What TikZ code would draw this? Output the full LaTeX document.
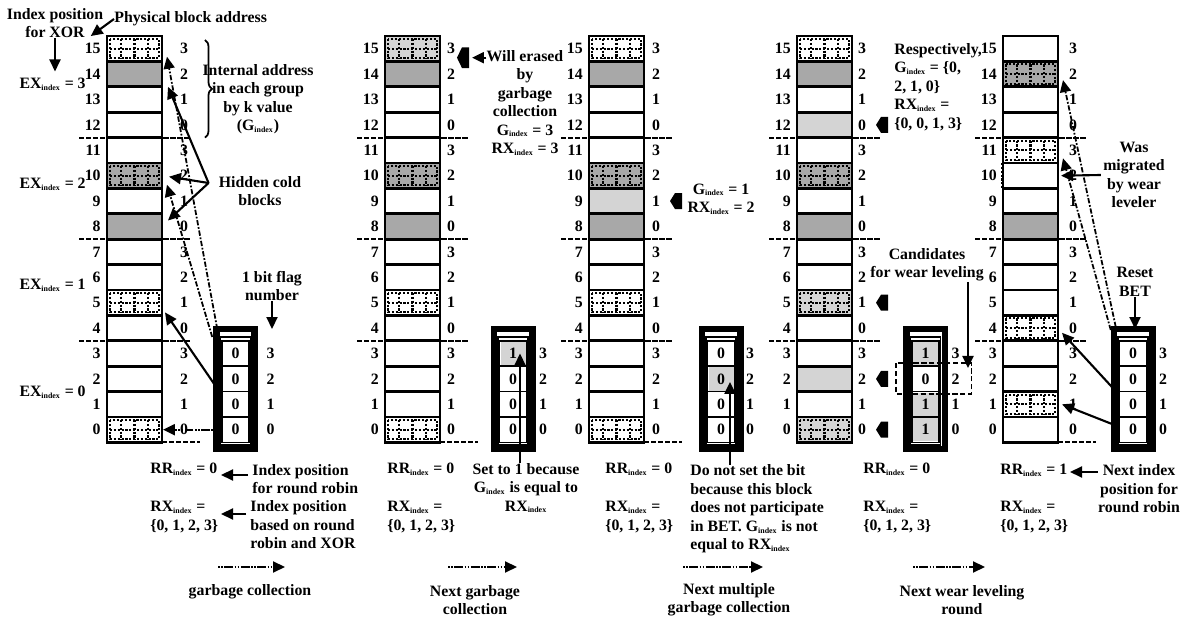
\documentclass[tikz,border=0pt]{standalone}
\usepackage{fontspec}
\setmainfont{Liberation Serif}
\usetikzlibrary{calc,positioning,arrows.meta,decorations.pathreplacing}
\definecolor{coldgray}{gray}{0.66}
\definecolor{palegray}{gray}{0.83}

\newcommand{\ix}{\textsubscript{\fontsize{4.5}{5}\selectfont index}}
\newcommand{\hatchcell}[1]{%
  \draw[hatch] ($(#1.north west)+(3,3)$) rectangle ($(#1.south east)+(-3,-3)$);
  \draw[hatch] ($(#1.west)+(3,0)$) -- ($(#1.east)+(-3,0)$);
  \foreach \f in {0.25,0.5,0.75}
    \draw[hatch] ($(#1.north west)!\f!(#1.north east)+(0,3)$) -- ($(#1.south west)!\f!(#1.south east)+(0,-3)$);}
\newcommand{\betbox}[3]{%
  \node[betframe] (bet#1) at (#2,389) {};
  \draw[line width=0.6pt] (#2-15,337) rectangle (#2+15,445);
  \foreach \k in {0,...,3} {
    \node[bitcell] (b#1r\k) at (#2,{36+(15.5-\k)*25.4}) {};
    \node[num] (b#1n\k) at ($(b#1r\k.center)+(#3,0)$) {\k};
  }}

\tikzset{
  cell/.style={rectangle, minimum width=1.1cm, minimum height=0.508cm, inner sep=0pt, outer sep=0pt},
  bitcell/.style={rectangle, draw, line width=0.8pt, minimum width=0.54cm, minimum height=0.508cm, inner sep=0pt, outer sep=0pt},
  betframe/.style={rectangle, draw, line width=0.13cm, minimum width=0.77cm, minimum height=2.4cm, inner sep=0pt, outer sep=0pt},
  num/.style={inner sep=0pt},
  lbl/.style={inner sep=0pt, align=center},
  colline/.style={line width=1.6pt},
  grp/.style={line width=1.1pt, dash pattern=on 3pt off 1pt},
  hatch/.style={line width=1.2pt, dash pattern=on 1.2pt off 1pt},
  tipped/.style={-{Triangle[length=0.24cm,width=0.22cm]}},
  blkarrow/.style={tipped, line width=1.2pt},
  dasharrow/.style={tipped, line width=1pt, dash pattern=on 3pt off 1pt on 1pt off 1pt},
  steparrow/.style={tipped, line width=1.2pt, dash pattern=on 1pt off 0.8pt on 1pt off 0.8pt on 5pt off 0.8pt},
  flagmark/.pic={\fill (6,-8) -- (-1,-8) -- (-6,0) -- (-1,8) -- (6,8) -- cycle;}
}

\begin{document}
\begin{tikzpicture}[x=0.02cm, y=-0.02cm, font=\bfseries\fontsize{9}{10.5}\selectfont]
\useasboundingbox (0,0) rectangle (1180,617);

% block columns of the five stages
\foreach \p/\xl/\ro in {1/107/22,2/385/11,3/589/12,4/797/10,5/1003/15}
  \foreach \r in {0,...,15} {
    \pgfmathtruncatemacro{\g}{mod(\r,4)}
    \node[cell] (p\p r\r) at (\xl+27.5,{36+(15.5-\r)*25.4}) {};
    \node[num, anchor=east] (p\p a\r) at ($(p\p r\r.west)+(-6,0)$) {\r};
    \node[num] (p\p g\r) at ($(p\p r\r.east)+(\ro,0)$) {\g};
  }

\foreach \c in {p1r14,p1r10,p1r8,p2r14,p2r10,p2r8,p3r14,p3r10,p3r8,p4r14,p4r10,p4r8,p5r14,p5r8}
  \fill[coldgray] ($(\c.north west)+(0,1)$) rectangle ($(\c.south east)+(0,-1)$);
\foreach \c in {p2r15,p3r9,p4r12,p4r5,p4r2,p4r0}
  \fill[palegray] ($(\c.north west)+(0,1)$) rectangle ($(\c.south east)+(0,-1)$);
\foreach \c in {p1r15,p1r10,p1r5,p1r0,p2r15,p2r10,p2r5,p2r0,p3r15,p3r10,p3r5,p3r0,p4r15,p4r10,p4r5,p4r0,p5r14,p5r11,p5r4,p5r1}
  \hatchcell{\c};

\foreach \p in {1,...,5} {
  \foreach \r in {4,8,12}
    \draw[grp] ($(p\p r\r.south west)+(-28,0)$) -- ($(p\p r\r.south east)+(28,0)$);
  \foreach \r in {0,...,14}
    \draw[colline] (p\p r\r.north west) -- (p\p r\r.north east);
  \draw[colline] (p\p r15.north west) rectangle (p\p r0.south east);
}
\foreach \p in {1,2,3,5}
  \draw[grp] (p\p r0.south east) -- ++(38,0);
\draw[hatch, line width=1.6pt] ($(p5r10.north west)+(-1,0)$) -- ($(p5r10.south west)+(-1,0)$);

% block erase tables
\betbox{1}{235.5}{35}
\betbox{2}{513}{30}
\betbox{3}{721}{29}
\betbox{4}{925.5}{30}
\betbox{5}{1133}{30}
\foreach \c in {b2r3,b3r2,b4r3,b4r1,b4r0}
  \fill[palegray] ($(\c.north west)+(1,1)$) rectangle ($(\c.south east)+(-1,-1)$);
\foreach \c/\v in {b1r3/0,b1r2/0,b1r1/0,b1r0/0,b2r3/1,b2r2/0,b2r1/0,b2r0/0,b3r3/0,b3r2/0,b3r1/0,b3r0/0,
                   b4r3/1,b4r2/0,b4r1/1,b4r0/1,b5r3/0,b5r2/0,b5r1/0,b5r0/0}
  \node[num] (\c v) at (\c) {\v};

% first stage
\node[lbl] (xorpos) at (55,23) {Index position\\for XOR};
\node[lbl, anchor=east] (ex3) at (86,84) {EX\ix{} = 3};
\node[lbl, anchor=east] (ex2) at (86,184) {EX\ix{} = 2};
\node[lbl, anchor=east] (ex1) at (86,285) {EX\ix{} = 1};
\node[lbl, anchor=east] (ex0) at (86,392) {EX\ix{} = 0};
\draw[blkarrow] (xorpos.south) -- ($(xorpos.south |- ex3.north)+(0,-6)$);
\node[lbl, anchor=west] (phys) at (114,19) {Physical block address};
\draw[blkarrow] (phys.west) -- ($(p1a15.north)+(-2,-7)$);
\draw[decorate, decoration={brace, amplitude=0.14cm}, line width=1pt]
  ($(p1r15.north east)+(43,4)$) -- ($(p1r12.south east)+(43,0)$);
\node[lbl] (intaddr) at (258,99) {Internal address\\in each group\\by k value\\(G\ix)};
\node[lbl] (hidden) at (260,191) {Hidden cold\\blocks};
\coordinate (hc) at ($(hidden.west)+(-10,-8)$);
\draw[blkarrow] (hc) -- ($(p1r14.south east)+(6,0)$);
\draw[blkarrow] (hc) -- ($(p1r10.east)+(7,1)$);
\draw[blkarrow] (hc) -- ($(p1r8.east)+(6,-6)$);
\draw[dasharrow] ($(bet1.north west)+(1,0)$) -- ($(p1r15.east)+(5,8)$);
\draw[dasharrow] ($(bet1.north west)+(-4,8)$) -- ($(p1r10.east)+(5,9)$);
\draw[blkarrow] ($(bet1.west)+(0,-2)$) -- ($(p1r5.south east)+(3,-3)$);
\draw[steparrow] (bet1.west |- b1r0) -- ($(p1r0.east)+(1,0)$);
\node[lbl] (flagnum) at (272,286) {1 bit flag\\number};
\draw[blkarrow] (flagnum.south) -- (flagnum.south |- bet1.north);

\node[lbl, anchor=west, align=left] (rrnote) at (252,479) {Index position\\for round robin};
\node[lbl, anchor=west, align=left] (rxnote) at (250,525) {Index position\\based on round\\robin and XOR};
\coordinate (rrtip) at (221,475);
\coordinate (rxtip) at (221,514);

% values under the stages
\foreach \p/\x in {1/150,2/387,3/605,4/863} {
  \node[lbl, anchor=west] (rr\p) at (\x,469) {RR\ix{} = 0};
  \node[lbl, anchor=west, align=left] (rx\p) at (\x,517) {RX\ix{} =\\\{0, 1, 2, 3\}};
}
\node[lbl, anchor=west] (rr5) at (1000,470) {RR\ix{} = 1};
\node[lbl, anchor=west, align=left] (rx5) at (1000,517) {RX\ix{} =\\\{0, 1, 2, 3\}};
\draw[blkarrow] ($(rrnote.west |- rrtip)+(-4,0)$) -- (rrtip);
\draw[blkarrow] ($(rxnote.west |- rxtip)+(-4,0)$) -- (rxtip);

% second stage
\node[lbl] (erase) at (525,103) {Will erased\\by\\garbage\\collection\\G\ix{} = 3\\RX\ix{} = 3};
\pic[yscale=1.3] at ($(p2r15.east)+(23,9)$) {flagmark};
\coordinate (erasetip) at ($(p2r15.east)+(32,9)$);
\draw[blkarrow] (erase.west |- erasetip) -- (erasetip);
\node[lbl] (setone) at (526,488) {Set to 1 because\\G\ix{} is equal to\\RX\ix};
\coordinate (settip) at ($(b2r3)+(7,0)$);
\draw[blkarrow] (settip |- setone.north) -- (settip);

% third stage
\pic at ($(p3r9.east)+(32,0)$) {flagmark};
\node[lbl] (gone) at (721,199) {G\ix{} = 1\\RX\ix{} = 2};
\node[lbl, anchor=west, align=left] (noset) at (690,509) {Do not set the bit\\because this block\\does not participate\\in BET. G\ix{} is not\\equal to RX\ix};
\coordinate (nosettip) at ($(b3r2)+(9,3)$);
\draw[blkarrow] (nosettip |- noset.north) -- (nosettip);

% fourth stage
\foreach \r in {12,5,2,0}
  \pic at ($(p4r\r.east)+(30,0)$) {flagmark};
\node[lbl, anchor=west, align=left] (resp) at (894,87) {Respectively,\\G\ix{} = \{0,\\2, 1, 0\}\\RX\ix{} =\\\{0, 0, 1, 3\}};
\node[lbl] (cand) at (927,265) {Candidates\\for wear leveling};
\coordinate (candtip) at (968,368);
\draw[blkarrow] (candtip |- cand.south) -- (candtip);
\draw[line width=1pt, dash pattern=on 3pt off 1.5pt] ($(b4r2.north west)+(-16,-3)$) rectangle ($(b4n2)+(16,15)$);

% fifth stage
\node[lbl] (mig) at (1134,175) {Was\\migrated\\by wear\\leveler};
\draw[blkarrow] ($(mig.west)+(-2,0)$) -- ($(p5r10.east)+(3,0)$);
\node[lbl] (reset) at (1135,282) {Reset\\BET};
\draw[blkarrow] (reset.south) -- (reset.south |- bet5.north);
\draw[blkarrow] (bet5.west) -- ($(p5r4.south east)+(4,-8)$);
\draw[blkarrow] ($(bet5.west |- b5r0)+(0,-5)$) -- ($(p5r1.east)+(4,0)$);
\draw[dasharrow] ($(bet5.north west)+(2,-2)$) -- ($(p5r14.east)+(5,6)$);
\draw[dasharrow] ($(bet5.north west)+(-3,1)$) -- ($(p5r11.east)+(5,8)$);
\node[lbl] (nextrr) at (1139,489) {Next index\\position for\\round robin};
\coordinate (nextrrtip) at (1070,472);
\draw[blkarrow] (nextrr.west |- nextrrtip) -- (nextrrtip);

% stage transitions
\node[lbl] (gc1) at (250,592) {garbage collection};
\node[lbl] (gc2) at (475,600) {Next garbage\\collection};
\node[lbl] (gc3) at (729,600) {Next multiple\\garbage collection};
\node[lbl] (gc4) at (962,600) {Next wear leveling\\round};
\foreach \i/\a/\b in {1/218/285,2/448/517,3/683/763,4/913/985} {
  \coordinate (go\i) at (\a,567);
  \coordinate (end\i) at (\b,567);
  \draw[steparrow] (go\i) -- (end\i);
}
\end{tikzpicture}
\end{document}
